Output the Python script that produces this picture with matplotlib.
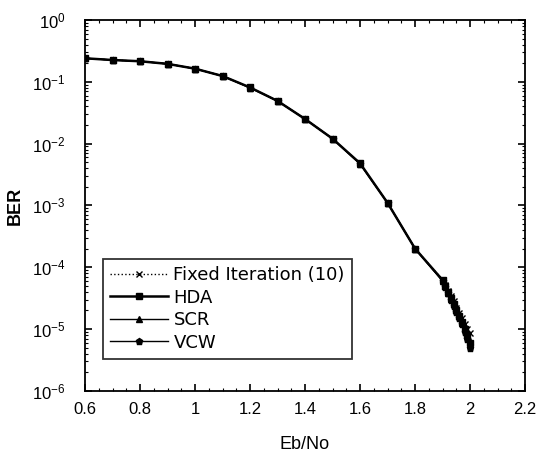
import matplotlib
matplotlib.use("Agg")
import matplotlib.pyplot as plt
from matplotlib.ticker import FixedLocator, NullFormatter, LogFormatterMathtext

plt.rcParams['font.family'] = ['Liberation Sans', 'DejaVu Sans']
plt.rcParams['mathtext.fontset'] = 'custom'
plt.rcParams['mathtext.rm'] = 'Liberation Sans'
plt.rcParams['mathtext.bf'] = 'Liberation Sans:bold'

# Eb/No grid (coarse up to 1.9, then fine steps to 2.0)
ebno = [0.6, 0.7, 0.8, 0.9, 1.0, 1.1, 1.2, 1.3, 1.4, 1.5, 1.6, 1.7, 1.8, 1.9,
        1.91, 1.92, 1.93, 1.94, 1.95, 1.96, 1.97, 1.98, 1.99, 2.0]

ber_fixed = [0.24, 0.225, 0.215, 0.195, 0.163, 0.124, 0.081, 0.049, 0.025, 0.012,
             0.0048, 0.0011, 2.0e-4, 6.3e-5,
             5.2e-5, 4.2e-5, 3.4e-5, 2.8e-5, 2.2e-5, 1.8e-5, 1.5e-5, 1.2e-5, 1.0e-5, 8.5e-6]
ber_hda = [0.24, 0.225, 0.215, 0.195, 0.163, 0.124, 0.081, 0.049, 0.025, 0.012,
           0.0048, 0.0011, 2.0e-4, 6.2e-5,
           5.0e-5, 4.0e-5, 3.2e-5, 2.5e-5, 2.0e-5, 1.6e-5, 1.3e-5, 1.0e-5, 8.0e-6, 6.0e-6]
ber_scr = [0.24, 0.225, 0.215, 0.195, 0.163, 0.124, 0.080, 0.049, 0.025, 0.012,
           0.0047, 0.0011, 2.0e-4, 6.0e-5,
           4.9e-5, 3.9e-5, 3.1e-5, 2.5e-5, 2.0e-5, 1.6e-5, 1.25e-5, 1.0e-5, 8.0e-6, 6.5e-6]
ber_vcw = [0.24, 0.225, 0.215, 0.195, 0.163, 0.124, 0.080, 0.049, 0.025, 0.012,
           0.0047, 0.0011, 2.0e-4, 6.0e-5,
           4.8e-5, 3.8e-5, 3.0e-5, 2.4e-5, 1.9e-5, 1.5e-5, 1.2e-5, 9.0e-6, 7.0e-6, 5.0e-6]

x_ticks = [0.6, 0.8, 1.0, 1.2, 1.4, 1.6, 1.8, 2.0, 2.2]
y_ticks = [1e0, 1e-1, 1e-2, 1e-3, 1e-4, 1e-5, 1e-6]

fig = plt.figure(figsize=(5.38, 4.54), dpi=100)
ax = fig.add_axes([0.158, 0.139, 0.818, 0.817])

ax.semilogy(ebno, ber_fixed, color='black', linestyle=':', linewidth=1.0,
            marker='x', markersize=4, label='Fixed Iteration (10)')
ax.semilogy(ebno, ber_hda, color='black', linestyle='-', linewidth=1.8,
            marker='s', markersize=5, markerfacecolor='black', label='HDA')
ax.semilogy(ebno, ber_scr, color='black', linestyle='-', linewidth=1.0,
            marker='^', markersize=4, markerfacecolor='black', label='SCR')
ax.semilogy(ebno, ber_vcw, color='black', linestyle='-', linewidth=1.0,
            marker='p', markersize=5, markerfacecolor='black', label='VCW')

ax.set_xlim(0.6, 2.2)
ax.set_ylim(1e-6, 1e0)

# ticks only inside the view
x_minor = [0.6 + 0.05 * i for i in range(33)]
y_minor = [m * 10.0 ** e for e in range(-6, 0) for m in range(2, 10)]
ax.xaxis.set_major_locator(FixedLocator(x_ticks))
ax.xaxis.set_minor_locator(FixedLocator(x_minor))
ax.yaxis.set_major_locator(FixedLocator(y_ticks))
ax.yaxis.set_minor_locator(FixedLocator(y_minor))
ax.yaxis.set_minor_formatter(NullFormatter())
ax.xaxis.set_minor_formatter(NullFormatter())
ax.yaxis.set_major_formatter(LogFormatterMathtext())
ax.xaxis.set_major_formatter(plt.FuncFormatter(lambda v, p: f"{v:g}"))

ax.tick_params(which='both', direction='in', top=True, right=True, labelsize=12)
ax.tick_params(which='major', length=5, width=1.2)
ax.tick_params(which='minor', length=2.5, width=0.8)
ax.tick_params(axis='x', which='major', pad=8)
ax.tick_params(axis='y', which='major', pad=14)
for s in ax.spines.values():
    s.set_linewidth(1.3)

ax.set_xlabel('Eb/No', fontsize=13, labelpad=14)
ax.set_ylabel('BER', fontsize=13, fontweight='bold', labelpad=6)

leg = ax.legend(loc='upper left', bbox_to_anchor=(0.041, 0.356),
                prop={'family': 'DejaVu Sans', 'size': 13},
                frameon=True, fancybox=False, edgecolor='black', handlelength=3.2,
                handletextpad=0.3, borderpad=0.4, labelspacing=0.25, borderaxespad=0)
leg.get_frame().set_linewidth(1.3)

fig.savefig('out.png', dpi=100)
